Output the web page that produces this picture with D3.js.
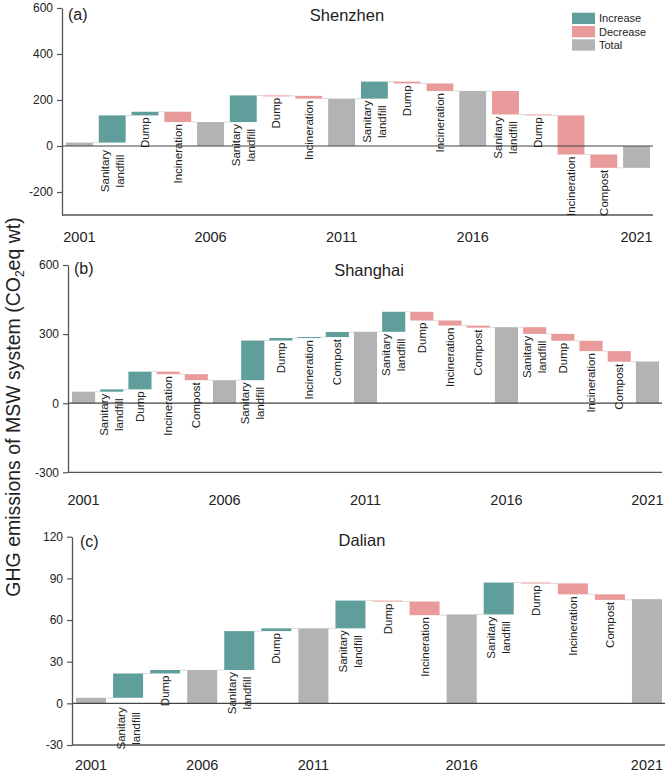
<!DOCTYPE html>
<html><head><meta charset="utf-8">
<script src="https://cdn.jsdelivr.net/npm/d3@7"></script>
<style>
body{margin:0;background:#fff}
text{font-family:"Liberation Sans",Arial,Helvetica,sans-serif;fill:#222}
</style>
</head><body>
<svg id="chart" width="666" height="772"></svg>
<script>
// ---------- DATA ----------
// Totals are absolute levels (year bars); other entries are changes.
const shenzhenCategories = ["2001","Sanitary landfill","Dump","Incineration","2006","Sanitary landfill","Dump","Incineration","2011","Sanitary landfill","Dump","Incineration","2016","Sanitary landfill","Dump","Incineration","Compost","2021"];
const shenzhenValues = [15, 118, 16, -45, 104, 116, -2, -12, 206, 74, -8, -33, 239, -102, -4, -170, -58, -95];
const shenzhenTicks = [-200, 0, 200, 400, 600];

const shanghaiCategories = ["2001","Sanitary landfill","Dump","Incineration","Compost","2006","Sanitary landfill","Dump","Incineration","Compost","2011","Sanitary landfill","Dump","Incineration","Compost","2016","Sanitary landfill","Dump","Incineration","Compost","2021"];
const shanghaiValues = [50, 10, 77, -11, -26, 100, 172, 11, 4, 22, 310, 87, -38, -22, -9, 330, -29, -30, -45, -46, 181];
const shanghaiTicks = [-300, 0, 300, 600];

const dalianCategories = ["2001","Sanitary landfill","Dump","2006","Sanitary landfill","Dump","2011","Sanitary landfill","Dump","Incineration","2016","Sanitary landfill","Dump","Incineration","Compost","2021"];
const dalianValues = [4, 17.5, 2.5, 24, 28, 2, 54, 20, -0.7, -9.8, 64, 23, -0.6, -7.9, -4, 75];
const dalianTicks = [-30, 0, 30, 60, 90, 120];

const legendItems = ["Increase", "Decrease", "Total"];
// ---------------------------

const colors = {Increase: "#5f9e9b", Decrease: "#e99b9b", Total: "#b3b3b3"};
const svg = d3.select("#chart");

const panels = [
  {cats: shenzhenCategories, vals: shenzhenValues, ticks: shenzhenTicks, domain: [-300, 600],
   title: "Shenzhen", tag: "(a)", axisX: 62, yTop: 8, yBottom: 215, right: 653, pad: 0.18,
   titleX: 347, titleY: 21, tagX: 68, tagY: 20, yearY: 242},
  {cats: shanghaiCategories, vals: shanghaiValues, ticks: shanghaiTicks, domain: [-300, 600],
   title: "Shanghai", tag: "(b)", axisX: 68, yTop: 265, yBottom: 472.3, right: 662, pad: 0.18,
   titleX: 369, titleY: 276, tagX: 74, tagY: 274, yearY: 505},
  {cats: dalianCategories, vals: dalianValues, ticks: dalianTicks, domain: [-30, 120],
   title: "Dalian", tag: "(c)", axisX: 72, yTop: 536.7, yBottom: 745, right: 665, pad: 0.19,
   titleX: 362, titleY: 546, tagX: 80, tagY: 547, yearY: 770}
];

function drawPanel(p) {
  const g = svg.append("g");
  const y = d3.scaleLinear().domain(p.domain).range([p.yBottom, p.yTop]);
  const x = d3.scaleBand().domain(d3.range(p.cats.length))
    .range([p.axisX + 4, p.right - 3]).paddingInner(p.pad).paddingOuter(0);

  let run = 0;
  const steps = p.cats.map((c, i) => {
    const v = p.vals[i];
    const isTotal = /^\d{4}$/.test(c);
    let s, e, type;
    if (isTotal) { s = 0; e = v; type = "Total"; }
    else { s = run; e = run + v; type = v >= 0 ? "Increase" : "Decrease"; }
    run = e;
    return {i, c, s, e, type, isTotal};
  });

  // connectors
  g.selectAll("line.conn").data(steps.slice(0, -1)).join("line")
    .attr("x1", d => x(d.i) + x.bandwidth())
    .attr("x2", d => x(d.i + 1))
    .attr("y1", d => y(d.e)).attr("y2", d => y(d.e))
    .attr("stroke", "#dcdcdc").attr("stroke-width", 1);

  // bars
  g.selectAll("rect.bar").data(steps).join("rect")
    .attr("x", d => x(d.i)).attr("width", x.bandwidth())
    .attr("y", d => y(Math.max(d.s, d.e)))
    .attr("height", d => Math.max(1, Math.abs(y(d.s) - y(d.e))))
    .attr("fill", d => colors[d.type]);

  // zero line & bottom line
  g.append("line").attr("x1", p.axisX).attr("x2", p.right)
    .attr("y1", y(0)).attr("y2", y(0)).attr("stroke", "#444").attr("stroke-width", 1.2);
  g.append("line").attr("x1", p.axisX).attr("x2", p.right)
    .attr("y1", y(p.domain[0])).attr("y2", y(p.domain[0])).attr("stroke", "#555").attr("stroke-width", 1.3);

  // y axis
  const ax = g.append("g").attr("transform", `translate(${p.axisX},0)`)
    .call(d3.axisLeft(y).tickValues(p.ticks).tickFormat(d => String(d))
      .tickSize(5).tickSizeOuter(0).tickPadding(4));
  ax.select(".domain").attr("stroke", "#555").attr("stroke-width", 1.3);
  ax.selectAll(".tick line").attr("stroke", "#555").attr("stroke-width", 1.2);
  ax.selectAll(".tick text").style("font-size", "12px").attr("fill", "#333")
    .style("font-family", '"Liberation Sans",Arial,sans-serif');

  // year labels
  g.selectAll("text.year").data(steps.filter(d => d.isTotal)).join("text")
    .attr("x", d => x(d.i) + x.bandwidth() / 2).attr("y", p.yearY)
    .attr("text-anchor", "middle").style("font-size", "14.5px").text(d => d.c);

  // category labels (rotated)
  const zeroY = y(0);
  steps.filter(d => !d.isTotal).forEach(d => {
    const lines = d.c.split(" ");
    const bottom = y(Math.min(d.s, d.e));
    let top = bottom;
    if (bottom < zeroY && zeroY - bottom < 10) top = zeroY + 2;
    top += 2;
    const cx = x(d.i) + x.bandwidth() / 2;
    const texts = lines.map((ln, k) => {
      const lx = cx + (k - (lines.length - 1) / 2) * 15;
      return g.append("text").attr("text-anchor", "middle").attr("dy", "0.35em")
        .style("font-size", "11.5px").text(ln).datum(lx);
    });
    const maxLen = d3.max(texts, t => t.node().getComputedTextLength());
    const cy = top + maxLen / 2;
    texts.forEach(t => {
      const lx = t.datum();
      t.attr("transform", `translate(${lx},${cy}) rotate(-90)`);
    });
  });

  // title and tag
  g.append("text").attr("x", p.titleX).attr("y", p.titleY).attr("text-anchor", "middle")
    .style("font-size", "16.5px").text(p.title);
  g.append("text").attr("x", p.tagX).attr("y", p.tagY).style("font-size", "16px").text(p.tag);
}

panels.forEach(drawPanel);

// legend
const lg = svg.append("g");
legendItems.forEach((name, i) => {
  lg.append("rect").attr("x", 572).attr("y", 12.7 + i * 13.3).attr("width", 23).attr("height", 11.3)
    .attr("fill", colors[name]);
  lg.append("text").attr("x", 599).attr("y", 18.5 + i * 13.3).attr("dy", "0.35em")
    .style("font-size", "11px").attr("fill", "#333").text(name);
});

// y-axis title
const yt = svg.append("text").attr("transform", "translate(20,407) rotate(-90)")
  .attr("text-anchor", "middle").style("font-size", "19.5px");
yt.append("tspan").text("GHG emissions of MSW system (CO");
yt.append("tspan").text("2").style("font-size", "12px").attr("dy", "4");
yt.append("tspan").text("eq wt)").attr("dy", "-4");
</script>
</body></html>
